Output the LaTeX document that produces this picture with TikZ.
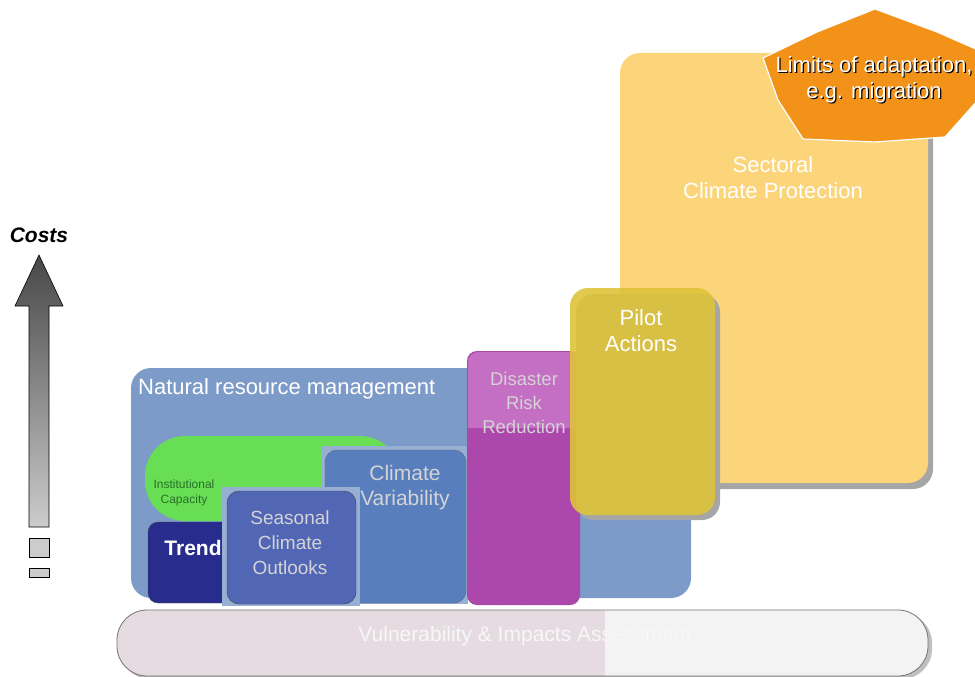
\documentclass[tikz,border=0pt]{standalone}
\usepackage{fontspec}
\setmainfont{Liberation Sans}
\usetikzlibrary{shadings}
\definecolor{nrm}{RGB}{125,155,200}
\definecolor{icgreen}{RGB}{104,222,84}
\definecolor{icdark}{RGB}{40,110,40}
\definecolor{trendblue}{RGB}{40,44,140}
\definecolor{cvblue}{RGB}{88,126,190}
\definecolor{scoblue}{RGB}{82,102,182}
\definecolor{drrlow}{RGB}{172,72,172}
\definecolor{drrtop}{RGB}{196,110,196}
\definecolor{pilotyel}{RGB}{222,195,58}
\definecolor{sector}{RGB}{252,212,122}
\definecolor{limorange}{RGB}{243,146,25}
\definecolor{vulleft}{RGB}{231,219,226}
\definecolor{vulright}{RGB}{243,243,243}
\definecolor{lighttext}{RGB}{212,212,212}
\tikzset{
  lbl/.style={align=center, font=\fontsize{22}{26}\selectfont, text=white, inner sep=0pt},
  slbl/.style={align=center, font=\fontsize{19}{25}\selectfont, text=lighttext, inner sep=0pt},
  shadowbox/.style={fill=black!35},
}
\begin{document}
\begin{tikzpicture}[x=1pt,y=-1pt]
\useasboundingbox (0,0) rectangle (975,677);
% Costs arrow
\node[font=\fontsize{21}{24}\selectfont\bfseries\itshape, inner sep=0pt] (costs) at (39,235) {Costs};
\draw[black, line width=0.6pt, top color=black!72, bottom color=black!20]
  (29,527) -- (29,306) -- (15,306) -- (39,255) -- (63,306) -- (49,306) -- (49,527) -- cycle;
\draw[black, line width=0.6pt, fill=black!20] (29,538) rectangle (49,557);
\draw[black, line width=0.6pt, fill=black!20] (29,568) rectangle (49,577);
% Vulnerability bar
\fill[black!25] (120,613) [rounded corners=30] rectangle (932,679);
\begin{scope}
  \clip[rounded corners=30] (117,610) rectangle (928,676);
  \fill[vulleft] (117,610) rectangle (605,676);
  \fill[vulright] (605,610) rectangle (928,676);
\end{scope}
\draw[black!55, line width=0.8pt, rounded corners=30] (117,610) rectangle (928,676);
\node[lbl, font=\fontsize{21}{24}\selectfont, text=white!97!black] (vul) at (525,636) {Vulnerability \& Impacts Assessment};
% NRM
\fill[nrm, rounded corners=20] (131,368) rectangle (691,598);
\node[lbl, anchor=west] (nrmlbl) at (138,389) {Natural resource management};
% Institutional capacity
\fill[icgreen, rounded corners=40] (145,436) rectangle (400,521);
\node[align=center, font=\fontsize{12}{15}\selectfont, text=icdark, inner sep=0pt] (ic) at (184,493) {Institutional\\ Capacity};
% Trend
\draw[black!70, fill=trendblue, rounded corners=10] (148,522) rectangle (234,603);
\node[lbl, font=\fontsize{21}{24}\selectfont\bfseries] (trend) at (193,548) {Trend};
% Climate variability
\fill[nrm!80!white] (322,446) rectangle (468,604);
\draw[black!60, fill=cvblue, rounded corners=12] (325,450) rectangle (466,603);
\node[slbl, font=\fontsize{21}{25}\selectfont] (cv) at (405,488) {Climate\\ Variability};
% Seasonal climate outlooks
\fill[nrm!80!white] (222,487) rectangle (360,606);
\draw[black!75, fill=scoblue, rounded corners=12] (227,491) rectangle (356,604);
\node[slbl] (sco) at (290,543) {Seasonal\\ Climate\\ Outlooks};
% Disaster risk reduction
\draw[black!60, dotted, fill=drrlow, rounded corners=10] (467,351) rectangle (580,605);
\fill[drrtop, rounded corners=10] (468,352) rectangle (579,428);
\fill[drrtop] (468,400) rectangle (579,428);
\node[slbl, font=\fontsize{18.5}{24}\selectfont] (drr) at (524,403) {Disaster\\ Risk\\ Reduction};
% Sectoral climate protection
\fill[shadowbox, rounded corners=20] (626,59) rectangle (933,489);
\fill[sector, rounded corners=20] (620,53) rectangle (928,483);
\node[lbl] (scp) at (773,178) {Sectoral\\ Climate Protection};
% Pilot actions
\fill[shadowbox, rounded corners=18] (576,294) rectangle (720,520);
\fill[pilotyel, opacity=0.9, rounded corners=18] (570,288) rectangle (715,515);
\node[lbl] (pilot) at (641,331) {Pilot\\ Actions};
% Limits of adaptation
\draw[white, line width=1.2pt, fill=limorange]
  (875,9) -- (937,32) -- (978,50) -- (978,100) -- (945,137) -- (875,142) -- (803,139) -- (778,100) -- (763,58) -- (817,32) -- cycle;
\node[lbl, text=black] at (875.2,81.2) {Limits of adaptation,\\ e.g. migration};
\node[lbl] (limits) at (874,80) {Limits of adaptation,\\ e.g. migration};
\end{tikzpicture}
\end{document}
